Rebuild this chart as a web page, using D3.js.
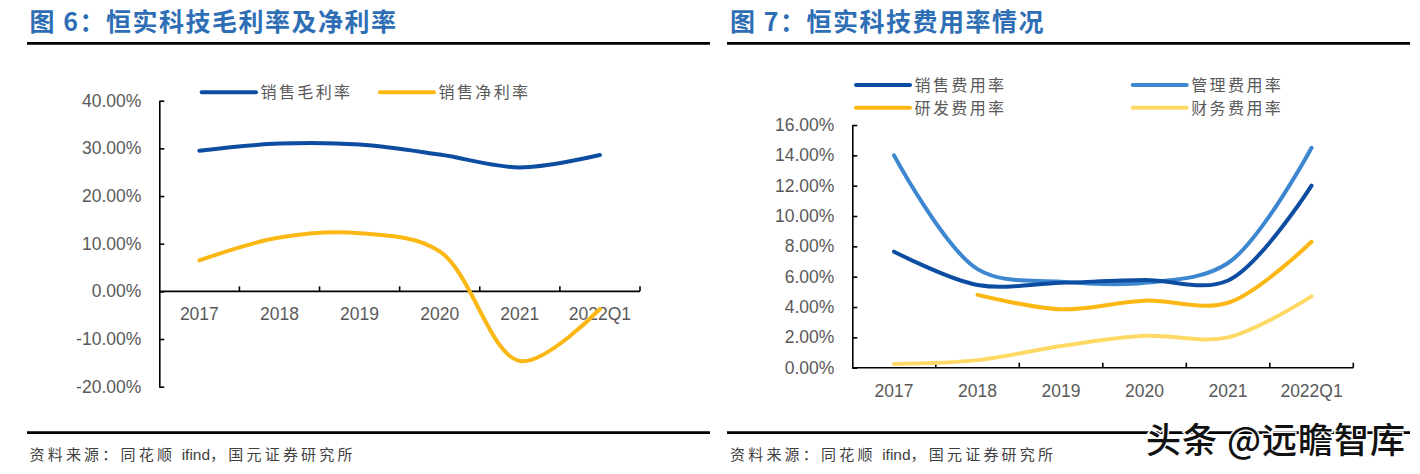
<!DOCTYPE html>
<html>
<head>
<meta charset="utf-8">
<script src="https://cdn.jsdelivr.net/npm/d3@7/dist/d3.min.js"></script>
<style>
  html, body { margin: 0; padding: 0; background: #ffffff; }
  svg { display: block; }
</style>
</head>
<body>
<script>
// ---------- data ----------
const categories = ["2017", "2018", "2019", "2020", "2021", "2022Q1"];

// Figure 6
const leftTitle = "图 6：恒实科技毛利率及净利率";
const grossMarginName = "销售毛利率";
const grossMargin = [29.5, 31.0, 30.8, 28.7, 26.0, 28.6];
const netMarginName = "销售净利率";
const netMargin = [6.5, 11.3, 12.2, 8.4, -14.6, -3.7];
const leftTicks = [-20, -10, 0, 10, 20, 30, 40];

// Figure 7
const rightTitle = "图 7：恒实科技费用率情况";
const salesExpName = "销售费用率";
const salesExp = [7.65, 5.45, 5.6, 5.78, 5.75, 12.0];
const adminExpName = "管理费用率";
const adminExp = [14.0, 6.5, 5.67, 5.6, 6.9, 14.5];
const rdExpName = "研发费用率";
const rdExp = [null, 4.8, 3.85, 4.42, 4.28, 8.3];
const finExpName = "财务费用率";
const finExp = [0.25, 0.5, 1.43, 2.1, 2.0, 4.7];
const rightTicks = [0, 2, 4, 6, 8, 10, 12, 14, 16];

const sourcePre = "资料来源：同花顺 ";
const sourceMid = "ifind";
const sourcePost = "，国元证券研究所";
const watermark = "头条 @远瞻智库";

// ---------- styles ----------
const C = {
  title: "#2E6EB5",
  darkBlue: "#0D4DA1",
  midBlue: "#3C87D0",
  orange: "#FBB714",
  lightYellow: "#FFD966",
  text: "#595959"
};
const numFont = "'Liberation Sans', Arial, sans-serif";
const cjkFont = "'Noto Sans CJK SC', 'Noto Sans', sans-serif";

const W = 1420, H = 474;
const svg = d3.select("body").append("svg").attr("width", W).attr("height", H);

// ---------- headers / footers ----------
function header(x, text, x1, x2) {
  svg.append("text").attr("x", x).attr("y", 31)
    .attr("font-family", cjkFont).attr("font-weight", 700).attr("font-size", 25)
    .attr("letter-spacing", 1.5).attr("fill", C.title).text(text);
  svg.append("line").attr("x1", x1).attr("x2", x2).attr("y1", 43.3).attr("y2", 43.3)
    .attr("stroke", "#000").attr("stroke-width", 2.8);
  svg.append("line").attr("x1", x1).attr("x2", x2).attr("y1", 432.7).attr("y2", 432.7)
    .attr("stroke", "#000").attr("stroke-width", 2.8);
  const t = svg.append("text").attr("x", x).attr("y", 460)
    .attr("font-family", cjkFont).attr("font-size", 15).attr("fill", "#404040");
  t.append("tspan").attr("letter-spacing", 3.2).text(sourcePre);
  t.append("tspan").attr("font-family", numFont).attr("font-size", 15.5).text(sourceMid);
  t.append("tspan").attr("letter-spacing", 3.2).text(sourcePost);
}
header(29.5, leftTitle, 27, 710);
header(730, rightTitle, 727, 1410);

// ---------- helpers ----------
const curve = d3.curveCatmullRom.alpha(0.5);

function drawYAxis(scale, ticks, xPos) {
  const g = svg.append("g").attr("transform", `translate(${xPos},0)`)
    .call(d3.axisLeft(scale).tickValues(ticks).tickFormat(d => d.toFixed(2) + "%")
      .tickSizeInner(-5).tickSizeOuter(0).tickPadding(18));
  g.select(".domain").attr("stroke", "#000").attr("stroke-width", 1.6);
  g.selectAll(".tick line").attr("stroke", "#000").attr("stroke-width", 1.6);
  g.selectAll(".tick text").attr("font-family", numFont).attr("font-size", 17.5)
    .attr("fill", C.text);
}

function drawXAxis(xScale, yPos, labelY) {
  const g = svg.append("g");
  const [r0, r1] = xScale.range();
  g.append("line").attr("x1", r0).attr("x2", r1).attr("y1", yPos).attr("y2", yPos)
    .attr("stroke", "#000").attr("stroke-width", 1.6);
  g.selectAll("line.tk").data(categories).enter().append("line").attr("class", "tk")
    .attr("x1", d => xScale(d) + xScale.bandwidth())
    .attr("x2", d => xScale(d) + xScale.bandwidth())
    .attr("y1", yPos).attr("y2", yPos - 5)
    .attr("stroke", "#000").attr("stroke-width", 1.6);
  g.selectAll("text").data(categories).enter().append("text")
    .attr("x", d => xScale(d) + xScale.bandwidth() / 2).attr("y", labelY)
    .attr("text-anchor", "middle").attr("font-family", numFont).attr("font-size", 17.5)
    .attr("fill", C.text).text(d => d);
}

function drawSeries(xScale, yScale, values, color) {
  const line = d3.line()
    .x(d => xScale(d.c) + xScale.bandwidth() / 2)
    .y(d => yScale(d.v))
    .curve(curve);
  const data = categories.map((c, i) => ({ c, v: values[i] })).filter(d => d.v !== null);
  svg.append("path").datum(data).attr("d", line).attr("fill", "none")
    .attr("stroke", color).attr("stroke-width", 4).attr("stroke-linecap", "round")
    .attr("stroke-linejoin", "round");
}

function legendItem(x1, x2, y, color, name) {
  svg.append("line").attr("x1", x1).attr("x2", x2).attr("y1", y).attr("y2", y)
    .attr("stroke", color).attr("stroke-width", 4).attr("stroke-linecap", "round");
  svg.append("text").attr("x", x2 + 4.5).attr("y", y + 5.8)
    .attr("font-family", cjkFont).attr("font-size", 16).attr("letter-spacing", 2.4)
    .attr("fill", C.text).text(name);
}

// ---------- Figure 6 ----------
const xL = d3.scaleBand().domain(categories).range([159.3, 640]).padding(0);
const yL = d3.scaleLinear().domain([-20, 40]).range([386.7, 100.7]);
drawYAxis(yL, leftTicks, 159.3);
drawXAxis(xL, yL(0), 319.5);
drawSeries(xL, yL, grossMargin, C.darkBlue);
drawSeries(xL, yL, netMargin, C.orange);
legendItem(201.7, 256, 92.3, C.darkBlue, grossMarginName);
legendItem(380, 434, 92.3, C.orange, netMarginName);

// ---------- Figure 7 ----------
const xR = d3.scaleBand().domain(categories).range([852.3, 1353.3]).padding(0);
const yR = d3.scaleLinear().domain([0, 16]).range([367.7, 125]);
drawYAxis(yR, rightTicks, 852.3);
drawXAxis(xR, yR(0), 396.5);
drawSeries(xR, yR, finExp, C.lightYellow);
drawSeries(xR, yR, rdExp, C.orange);
drawSeries(xR, yR, adminExp, C.midBlue);
drawSeries(xR, yR, salesExp, C.darkBlue);
legendItem(856, 910, 85, C.darkBlue, salesExpName);
legendItem(1132.7, 1186.7, 85, C.midBlue, adminExpName);
legendItem(856, 910, 107.7, C.orange, rdExpName);
legendItem(1132.7, 1186.7, 107.7, C.lightYellow, finExpName);

// ---------- watermark ----------
svg.append("text").attr("x", 1146).attr("y", 453)
  .attr("font-family", cjkFont).attr("font-weight", 500).attr("font-size", 35)
  .attr("letter-spacing", 1).attr("fill", "#111").attr("stroke", "#fff")
  .attr("stroke-width", 3).attr("paint-order", "stroke").text(watermark);
</script>
</body>
</html>
